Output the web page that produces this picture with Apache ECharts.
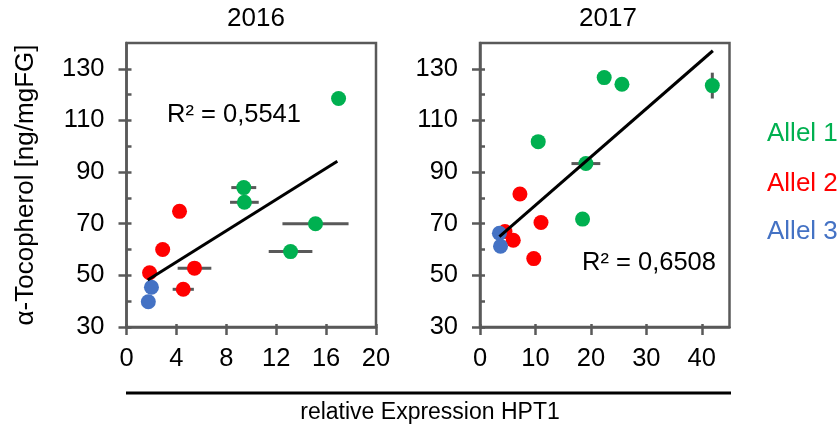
<!DOCTYPE html>
<html>
<head>
<meta charset="utf-8">
<script src="https://cdn.jsdelivr.net/npm/echarts@6/dist/echarts.min.js"></script>
<style>
  html, body { margin: 0; padding: 0; background: #fff; }
  #chart { width: 839px; height: 436px; }
</style>
</head>
<body>
<div id="chart"></div>
<script>
// tick labels
var yTicks = [30, 50, 70, 90, 110, 130];
var yMinorTicks = [30, 40, 50, 60, 70, 80, 90, 100, 110, 120, 130];
var xTicks2016 = [0, 4, 8, 12, 16, 20];
var xTicks2017 = [0, 10, 20, 30, 40];

// 2016
var x2016Allel1 = [17.0, 9.4, 9.45, 15.15, 13.15];
var y2016Allel1 = [118.5, 84.0, 78.3, 70.0, 59.2];
var xErr2016Allel1 = [0.4, 1.0, 1.15, 2.65, 1.75];
var yErr2016Allel1 = [1.0, 1.8, 1.0, 0.5, 0.5];
var x2016Allel2 = [4.25, 2.9, 1.85, 5.45, 4.55];
var y2016Allel2 = [74.8, 60.0, 51.0, 52.8, 44.6];
var xErr2016Allel2 = [0.2, 0.2, 0.2, 1.35, 0.85];
var yErr2016Allel2 = [0, 0, 0, 0, 0];
var x2016Allel3 = [2.0, 1.75];
var y2016Allel3 = [45.4, 39.8];
var trend2016X = [1.7, 16.9];
var trend2016Y = [48.2, 94.2];

// 2017
var x2017Allel1 = [22.4, 25.6, 41.9, 10.5, 19.1, 18.5];
var y2017Allel1 = [126.6, 124.0, 123.5, 101.8, 93.3, 71.8];
var xErr2017Allel1 = [0.5, 0.5, 0.3, 0.5, 2.6, 0.8];
var yErr2017Allel1 = [0, 0, 5.0, 0, 0, 0.5];
var x2017Allel2 = [7.2, 11.0, 6.0, 9.7, 4.5];
var y2017Allel2 = [81.5, 70.5, 63.6, 56.5, 67.0];
var x2017Allel3 = [3.5, 3.7];
var y2017Allel3 = [66.3, 61.3];
var trend2017X = [3.5, 42.0];
var trend2017Y = [65.0, 137.0];

var green = "#00B050", red = "#FF0000", blue = "#4472C4";
var frameColor = "#595959";
var font = "'Liberation Sans', Arial, sans-serif";

function pairs(xs, ys) {
  return xs.map(function (x, i) { return [x, ys[i]]; });
}
function errRows(xs, ys, xe, ye) {
  return xs.map(function (x, i) { return [x, ys[i], xe[i], ye[i]]; });
}

function renderErr(params, api) {
  var x = api.value(0), y = api.value(1), xe = api.value(2), ye = api.value(3);
  var style = { stroke: frameColor, lineWidth: 3 };
  var children = [];
  if (xe > 0) {
    var a = api.coord([x - xe, y]), b = api.coord([x + xe, y]);
    children.push({ type: "line", shape: { x1: a[0], y1: a[1], x2: b[0], y2: b[1] }, style: style });
  }
  if (ye > 0) {
    var c = api.coord([x, y - ye]), d = api.coord([x, y + ye]);
    children.push({ type: "line", shape: { x1: c[0], y1: c[1], x2: d[0], y2: d[1] }, style: style });
  }
  return { type: "group", children: children };
}

function mainX(grid, max, ticks) {
  return {
    type: "value", gridIndex: grid, min: 0, max: max,
    axisLine: { show: true, onZero: false, lineStyle: { color: frameColor, width: 2.5 } },
    axisTick: { show: true, customValues: ticks, length: 8, lineStyle: { color: frameColor, width: 2.5 } },
    axisLabel: { customValues: ticks, fontSize: 25.5, color: "#000", fontFamily: font, margin: 19 },
    splitLine: { show: false }
  };
}
function overlayX(grid, max, ticks) {
  return {
    type: "value", gridIndex: grid, min: 0, max: max, position: "bottom",
    axisLine: { show: false },
    axisTick: { show: true, inside: true, customValues: ticks, length: 3, lineStyle: { color: frameColor, width: 2.5 } },
    axisLabel: { show: false },
    splitLine: { show: false }
  };
}
function mainY(grid, withName) {
  var ax = {
    type: "value", gridIndex: grid, min: 30, max: 140,
    axisLine: { show: true, onZero: false, lineStyle: { color: frameColor, width: 2.5 } },
    axisTick: { show: true, customValues: yTicks, length: 8, lineStyle: { color: frameColor, width: 2.5 } },
    axisLabel: { customValues: yTicks, fontSize: 25.5, color: "#000", fontFamily: font, margin: 22 },
    splitLine: { show: false }
  };
  if (withName) {
    ax.name = "α-Tocopherol [ng/mgFG]";
    ax.nameLocation = "middle";
    ax.nameGap = 88;
    ax.nameTextStyle = { fontSize: 26, color: "#000", fontFamily: font };
  }
  return ax;
}
function overlayY(grid) {
  return {
    type: "value", gridIndex: grid, min: 30, max: 140, position: "left",
    axisLine: { show: false },
    axisTick: { show: true, inside: true, customValues: yMinorTicks, length: 5, lineStyle: { color: frameColor, width: 2.5 } },
    axisLabel: { show: false },
    splitLine: { show: false }
  };
}

function scatter(name, data, color, xi, yi) {
  return {
    name: name, type: "scatter", xAxisIndex: xi, yAxisIndex: yi,
    symbolSize: 15, itemStyle: { color: color, opacity: 1 }, z: 3, data: data
  };
}

var option = {
  animation: false,
  textStyle: { fontFamily: font },
  grid: [
    { left: 126.5, top: 43, width: 249.5, height: 284, show: true, borderColor: frameColor, borderWidth: 2.5, backgroundColor: "transparent" },
    { left: 480, top: 43, width: 249.5, height: 284, show: true, borderColor: frameColor, borderWidth: 2.5, backgroundColor: "transparent" }
  ],
  xAxis: [
    mainX(0, 20, xTicks2016), overlayX(0, 20, xTicks2016),
    mainX(1, 45, xTicks2017), overlayX(1, 45, xTicks2017)
  ],
  yAxis: [
    mainY(0, true), overlayY(0),
    mainY(1, false), overlayY(1)
  ],
  series: [
    { type: "custom", xAxisIndex: 0, yAxisIndex: 0, z: 2, renderItem: renderErr,
      data: errRows(x2016Allel1, y2016Allel1, xErr2016Allel1, yErr2016Allel1).concat(
            errRows(x2016Allel2, y2016Allel2, xErr2016Allel2, yErr2016Allel2)) },
    { type: "custom", xAxisIndex: 2, yAxisIndex: 2, z: 2, renderItem: renderErr,
      data: errRows(x2017Allel1, y2017Allel1, xErr2017Allel1, yErr2017Allel1) },
    scatter("Allel 1", pairs(x2016Allel1, y2016Allel1), green, 0, 0),
    scatter("Allel 2", pairs(x2016Allel2, y2016Allel2), red, 0, 0),
    scatter("Allel 3", pairs(x2016Allel3, y2016Allel3), blue, 0, 0),
    scatter("Allel 1", pairs(x2017Allel1, y2017Allel1), green, 2, 2),
    scatter("Allel 2", pairs(x2017Allel2, y2017Allel2), red, 2, 2),
    scatter("Allel 3", pairs(x2017Allel3, y2017Allel3), blue, 2, 2),
    { type: "line", xAxisIndex: 0, yAxisIndex: 0, z: 4, symbol: "none",
      lineStyle: { color: "#000", width: 3 }, data: pairs(trend2016X, trend2016Y) },
    { type: "line", xAxisIndex: 2, yAxisIndex: 2, z: 4, symbol: "none",
      lineStyle: { color: "#000", width: 3 }, data: pairs(trend2017X, trend2017Y) }
  ],
  graphic: [
    { type: "text", x: 256, y: 19, style: { text: "2016", font: "26px " + font, fill: "#000", textAlign: "center", textVerticalAlign: "middle" } },
    { type: "text", x: 608, y: 19, style: { text: "2017", font: "26px " + font, fill: "#000", textAlign: "center", textVerticalAlign: "middle" } },
    { type: "text", x: 234, y: 115, z: 10, style: { text: "R² = 0,5541", font: "25.5px " + font, fill: "#000", textAlign: "center", textVerticalAlign: "middle" } },
    { type: "text", x: 649, y: 263, z: 10, style: { text: "R² = 0,6508", font: "25.5px " + font, fill: "#000", textAlign: "center", textVerticalAlign: "middle" } },
    { type: "text", x: 767, y: 134, style: { text: "Allel 1", font: "26px " + font, fill: green, textVerticalAlign: "middle" } },
    { type: "text", x: 767, y: 184, style: { text: "Allel 2", font: "26px " + font, fill: red, textVerticalAlign: "middle" } },
    { type: "text", x: 767, y: 232, style: { text: "Allel 3", font: "26px " + font, fill: blue, textVerticalAlign: "middle" } },
    { type: "line", shape: { x1: 126, y1: 393, x2: 731, y2: 393 }, style: { stroke: "#000", lineWidth: 3 } },
    { type: "text", x: 430, y: 413, style: { text: "relative Expression HPT1", font: "23px " + font, fill: "#000", textAlign: "center", textVerticalAlign: "middle" } }
  ]
};

var chart = echarts.init(document.getElementById("chart"));
chart.setOption(option);
</script>
</body>
</html>
